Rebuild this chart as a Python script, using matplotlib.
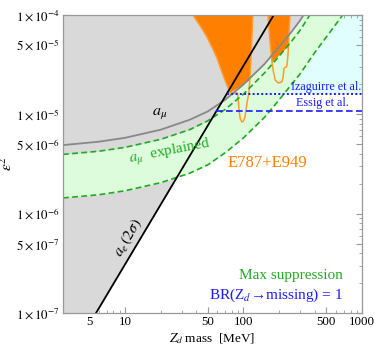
import numpy as np
import matplotlib
matplotlib.use("Agg")
import matplotlib.pyplot as plt
from matplotlib.ticker import FixedLocator, NullFormatter

# ---------------- data ----------------
mass = [3, 6, 10, 20, 35, 50, 70, 100, 150, 200, 250, 300, 400, 500, 700, 1000]
amu_bound = [4.9e-6, 5.3e-6, 5.8e-6, 7.0e-6, 8.8e-6, 1.07e-5, 1.4e-5, 2.0e-5,
             3.2e-5, 4.8e-5, 6.6e-5, 8.8e-5, 1.5e-4, 2.3e-4, 4.5e-4, 9e-4]
amu_upper = [3.95e-6, 4.25e-6, 4.65e-6, 5.6e-6, 7.0e-6, 8.6e-6, 1.12e-5, 1.6e-5,
             2.6e-5, 3.85e-5, 5.3e-5, 7.0e-5, 1.2e-4, 1.85e-4, 3.6e-4, 7.2e-4]
amu_lower = [1.44e-6, 1.55e-6, 1.7e-6, 2.05e-6, 2.55e-6, 3.1e-6, 4.1e-6, 5.8e-6,
             9.3e-6, 1.4e-5, 1.95e-5, 2.55e-5, 4.2e-5, 6.0e-5, 1.03e-4, 2.0e-4]

ae_mass = [5.7, 180]
ae_eps2 = [1e-7, 1e-4]

izaguirre_mass = [72, 1000]
izaguirre_eps2 = [1.62e-5, 1.62e-5]
essig_mass = [59, 1000]
essig_eps2 = [1.09e-5, 1.09e-5]

# E787+E949 contour (two lobes)
e787a_mass = [37.5, 44, 49.2, 55, 59.8, 67.2, 75.5, 77, 89, 90, 91.7, 94, 97.2, 100, 103, 107, 111, 113, 116, 120]
e787a_eps2 = [1e-4, 7.5e-5, 6.0e-5, 4.6e-5, 3.69e-5, 2.49e-5, 1.76e-5, 1.64e-5, 1.64e-5, 1.46e-5,
              1.10e-5, 9.0e-6, 8.36e-6, 8.6e-6, 9.4e-6, 1.30e-5, 1.64e-5, 2.2e-5, 4.0e-5, 1e-4]
e787a_fill_mass = [37.5, 44, 49.2, 55, 59.8, 67.2, 75.5, 77, 113, 116, 120]
e787a_fill_eps2 = [1e-4, 7.5e-5, 6.0e-5, 4.6e-5, 3.69e-5, 2.49e-5, 1.76e-5, 1.64e-5, 2.2e-5, 4.0e-5, 1e-4]

e787b_mass = [161, 167, 174, 178, 185, 196, 211, 216, 220, 229, 233, 238, 242, 247]
e787b_eps2 = [1e-4, 5.6e-5, 3.37e-5, 2.79e-5, 2.22e-5, 2.07e-5, 2.12e-5, 2.38e-5, 2.92e-5,
              2.99e-5, 3.13e-5, 4.14e-5, 6.6e-5, 1e-4]
e787b_fill_mass = [161, 167, 174, 238, 242, 247]
e787b_fill_eps2 = [1e-4, 5.6e-5, 3.3e-5, 4.8e-5, 6.6e-5, 1e-4]

x_ticks = [5, 10, 50, 100, 500, 1000]
y_ticks = [1e-7, 5e-7, 1e-6, 5e-6, 1e-5, 5e-5, 1e-4]
y_tick_labels = [r"$1\times10^{-7}$", r"$5\times10^{-7}$", r"$1\times10^{-6}$",
                 r"$5\times10^{-6}$", r"$1\times10^{-5}$", r"$5\times10^{-5}$",
                 r"$1\times10^{-4}$"]

# ---------------- styling ----------------
plt.rcParams['font.family'] = ['Liberation Serif', 'DejaVu Serif']
plt.rcParams['mathtext.fontset'] = 'stix'

GRAY_FILL = '#d9d9d9'
GREEN_FILL = '#dcfcdc'
CYAN_FILL = '#e0fefe'
GREEN = '#22aa22'
BLUE = '#1a1aff'
ORANGE = '#ff8000'
ORANGE_LINE = '#ff9a2e'

fig = plt.figure(figsize=(3.74, 3.46), dpi=100)
ax = fig.add_axes([63/374, 33/346, 299/374, 298/346])
ax.set_xscale('log')
ax.set_yscale('log')
ax.set_xlim(3, 1000)
ax.set_ylim(1e-7, 1e-4)

TOP = 1e-3
# cyan (Izaguirre et al. exclusion)
ax.fill_between(izaguirre_mass, izaguirre_eps2, TOP, color=CYAN_FILL, lw=0, zorder=1)
# light green between a_mu bound and lower edge
ax.fill_between(mass, amu_lower, amu_bound, color=GREEN_FILL, lw=0, zorder=2)
# gray excluded regions
ax.fill_betweenx(ae_eps2, 1, ae_mass, color=GRAY_FILL, lw=0, zorder=3)
ax.fill_between(mass, amu_bound, TOP, color=GRAY_FILL, lw=0, zorder=3)
# a_mu explained band
ax.fill_between(mass, amu_lower, amu_upper, color=GREEN_FILL, lw=0, zorder=4)

# E787 + E949
ax.fill(e787a_fill_mass, e787a_fill_eps2, color=ORANGE, lw=0, zorder=5)
ax.fill(e787b_fill_mass, e787b_fill_eps2, color=ORANGE, lw=0, zorder=5)
ax.plot(e787a_mass, e787a_eps2, color=ORANGE_LINE, lw=1.1, zorder=6)
ax.plot(e787b_mass, e787b_eps2, color=ORANGE_LINE, lw=1.1, zorder=6)

# lines
ax.plot(mass, amu_bound, color='#888888', lw=1.3, zorder=7)
ax.plot(mass, amu_upper, color=GREEN, lw=1.2, ls=(0, (3.5, 2)), zorder=7)
ax.plot(mass, amu_lower, color=GREEN, lw=1.2, ls=(0, (3.5, 2)), zorder=7)
ax.plot(ae_mass, ae_eps2, color='black', lw=1.3, zorder=8)
ax.plot(izaguirre_mass, izaguirre_eps2, color=BLUE, lw=1.4, ls=(0, (1, 1.2)), zorder=8)
ax.plot(essig_mass, essig_eps2, color=BLUE, lw=1.2, ls=(0, (4, 2)), zorder=8)

# texts
ax.text(0.324, 0.671, r"$a_\mu$", transform=ax.transAxes, fontsize=11.5,
        ha='center', va='center', zorder=9)
ax.text(0.358, 0.54, r"$a_\mu$  explained", transform=ax.transAxes, fontsize=11,
        color=GREEN, ha='center', va='center', rotation=11, zorder=9)
ax.text(0.217, 0.252, r"$a_e\,(2\sigma)$", transform=ax.transAxes, fontsize=11,
        ha='center', va='center', rotation=59, zorder=9)
ax.text(0.685, 0.505, "E787+E949", transform=ax.transAxes, fontsize=12,
        color=ORANGE, ha='center', va='center', zorder=9)
ax.text(0.998, 0.757, "Izaguirre et al.", transform=ax.transAxes, fontsize=8.7,
        color=BLUE, ha='right', va='center', zorder=9)
ax.text(0.866, 0.705, "Essig et al.", transform=ax.transAxes, fontsize=8.7,
        color=BLUE, ha='center', va='center', zorder=9)
ax.text(0.935, 0.1275, "Max suppression", transform=ax.transAxes, fontsize=11,
        color=GREEN, ha='right', va='center', zorder=9)
ax.text(0.935, 0.060, "BR(Z$_d$\u2192missing) = 1", transform=ax.transAxes,
        fontsize=11, color=BLUE, ha='right', va='center', zorder=9)

ax.set_xlabel(r"$Z_d$ mass  [MeV]", fontsize=9.5)
ax.xaxis.set_label_coords(0.5, -0.062)
ax.set_ylabel(r"$\varepsilon^2$", fontsize=11, rotation=90)
ax.yaxis.set_label_coords(-0.16, 0.5)

# ticks
ax.xaxis.set_major_locator(FixedLocator(x_ticks))
ax.set_xticklabels([str(t) for t in x_ticks])
ax.xaxis.set_minor_locator(FixedLocator([3, 4, 6, 7, 8, 9, 20, 30, 40, 60, 70, 80, 90,
                                         200, 300, 400, 600, 700, 800, 900]))
ax.xaxis.set_minor_formatter(NullFormatter())
ax.yaxis.set_major_locator(FixedLocator(y_ticks))
ax.set_yticklabels(y_tick_labels)
ax.yaxis.set_minor_locator(FixedLocator([2e-7, 3e-7, 4e-7, 6e-7, 7e-7, 8e-7, 9e-7,
                                         2e-6, 3e-6, 4e-6, 6e-6, 7e-6, 8e-6, 9e-6,
                                         2e-5, 3e-5, 4e-5, 6e-5, 7e-5, 8e-5, 9e-5]))
ax.yaxis.set_minor_formatter(NullFormatter())
ax.tick_params(which='both', direction='in', top=True, right=True,
               color='#999999', labelsize=9.3, pad=2.5)
ax.tick_params(which='major', length=4, width=0.8)
ax.tick_params(which='minor', length=2, width=0.6)
for s in ax.spines.values():
    s.set_color('#999999')
    s.set_linewidth(0.9)
    s.set_zorder(10)

fig.savefig("out.png", dpi=100)
